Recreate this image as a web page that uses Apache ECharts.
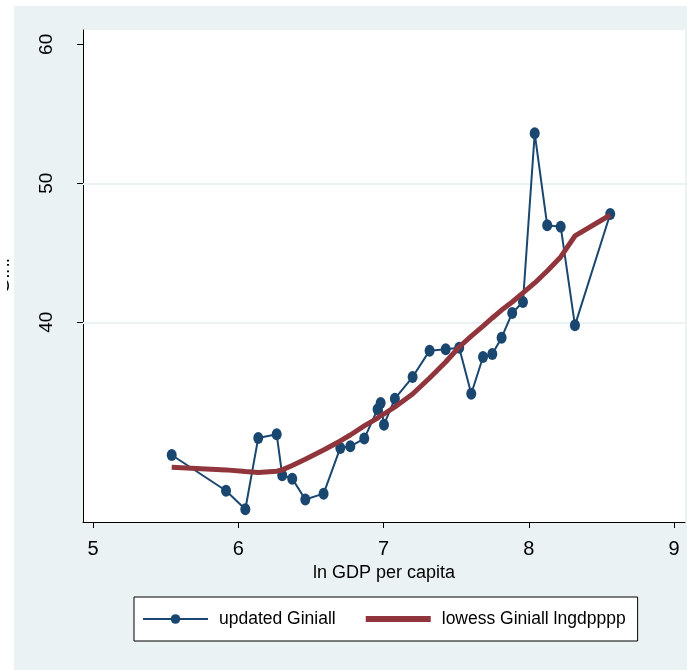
<!DOCTYPE html>
<html>
<head>
<meta charset="utf-8">
<script src="https://cdn.jsdelivr.net/npm/echarts@6/dist/echarts.min.js"></script>
<style>
  html, body { margin: 0; padding: 0; background: #fff; }
  #main { width: 687px; height: 670px; }
</style>
</head>
<body>
<div id="main"></div>
<script type="text/javascript">
// values, in the order they are connected
var lnGdp = [5.541, 5.915, 6.048, 6.137, 6.264, 6.302, 6.371, 6.461, 6.587, 6.702,
             6.771, 6.867, 6.959, 6.980, 7.003, 7.078, 7.200, 7.317, 7.428, 7.521,
             7.604, 7.685, 7.749, 7.813, 7.886, 7.960, 8.041, 8.127, 8.220, 8.318, 8.561];
var giniUpdated = [30.45, 27.88, 26.55, 31.68, 31.94, 28.99, 28.75, 27.25, 27.67, 30.96,
                   31.08, 31.63, 33.74, 34.19, 32.63, 34.50, 36.06, 37.96, 38.06, 38.17,
                   34.86, 37.50, 37.72, 38.89, 40.67, 41.46, 53.60, 46.98, 46.88, 39.78, 47.79];
var giniLowess = [29.57, 29.38, 29.27, 29.20, 29.28, 29.38, 29.70, 30.15, 30.81, 31.46,
                  31.89, 32.54, 33.11, 33.29, 33.40, 33.91, 34.84, 35.99, 37.14, 38.22,
                  39.01, 39.73, 40.31, 40.88, 41.46, 42.11, 42.83, 43.69, 44.70, 46.21, 47.72];
var xTicks = [5, 6, 7, 8, 9];
var yTicks = [40, 50, 60];
var yGrid = [40, 50];

var bgColor = '#eaf2f3';
var sans = '"Liberation Sans", Arial, sans-serif';

function pairs(xs, ys) {
    var out = [];
    for (var i = 0; i < xs.length; i++) out.push([xs[i], ys[i]]);
    return out;
}

var option = {
    animation: false,
    graphic: [
        { type: 'rect', left: 14, top: 6, shape: { width: 673, height: 664 }, style: { fill: bgColor }, z: -10 },
        // the original is cropped through the y title
        { type: 'rect', left: 0, top: 0, shape: { width: 7, height: 670 }, style: { fill: '#fff' }, z: 100 }
    ],
    grid: {
        left: 83, top: 30, right: 2, bottom: 148,
        show: true, backgroundColor: '#fff', borderWidth: 0,
        outerBoundsMode: 'none'
    },
    xAxis: {
        type: 'value',
        min: 4.93, max: 9.076,
        name: 'ln GDP per capita',
        nameLocation: 'middle',
        nameGap: 41,
        nameTextStyle: { color: '#000', fontFamily: sans, fontSize: 18 },
        axisLine: { lineStyle: { color: '#000', width: 1 } },
        axisTick: { customValues: xTicks, length: 6, lineStyle: { color: '#000' } },
        axisLabel: { customValues: xTicks, margin: 17, color: '#000', fontFamily: sans, fontSize: 20 },
        splitLine: { show: false }
    },
    yAxis: {
        type: 'value',
        min: 25.63, max: 61.03,
        name: 'Gini',
        nameLocation: 'middle',
        nameRotate: 90,
        nameGap: 70,
        nameTextStyle: { color: '#000', fontFamily: sans, fontSize: 20 },
        axisLine: { show: true, lineStyle: { color: '#000', width: 1 } },
        axisTick: { show: true, customValues: yTicks, length: 6, lineStyle: { color: '#000' } },
        axisLabel: { customValues: yTicks, rotate: 90, margin: 27, color: '#000', fontFamily: sans, fontSize: 19 },
        splitLine: { show: false }
    },
    legend: {
        left: 134, top: 597,
        padding: [13, 12, 13, 8],
        itemGap: 27,
        itemWidth: 65,
        itemHeight: 12,
        borderColor: '#000',
        borderWidth: 1,
        borderRadius: 0,
        backgroundColor: '#fff',
        textStyle: { color: '#000', fontFamily: sans, fontSize: 17.5, padding: [0, 0, 0, 6] },
        data: [
            { name: 'updated Giniall', lineStyle: { width: 2 } },
            { name: 'lowess Giniall lngdpppp', itemStyle: { opacity: 0 }, lineStyle: { width: 6 } }
        ]
    },
    series: [
        {
            name: 'updated Giniall',
            type: 'line',
            data: pairs(lnGdp, giniUpdated),
            symbol: 'circle',
            symbolSize: [10, 12],
            showAllSymbol: true,
            color: '#1a476f',
            lineStyle: { color: '#1a476f', width: 2 },
            itemStyle: { color: '#1a476f' },
            z: 3,
            markLine: {
                silent: true,
                symbol: ['none', 'none'],
                label: { show: false },
                lineStyle: { color: bgColor, width: 2, type: 'solid' },
                z: 1,
                data: yGrid.map(function (v) { return { yAxis: v }; })
            }
        },
        {
            name: 'lowess Giniall lngdpppp',
            type: 'line',
            data: pairs(lnGdp, giniLowess),
            symbol: 'none',
            color: '#90353b',
            lineStyle: { color: '#90353b', width: 5 },
            z: 4
        }
    ]
};

echarts.init(document.getElementById('main')).setOption(option);
</script>
</body>
</html>
